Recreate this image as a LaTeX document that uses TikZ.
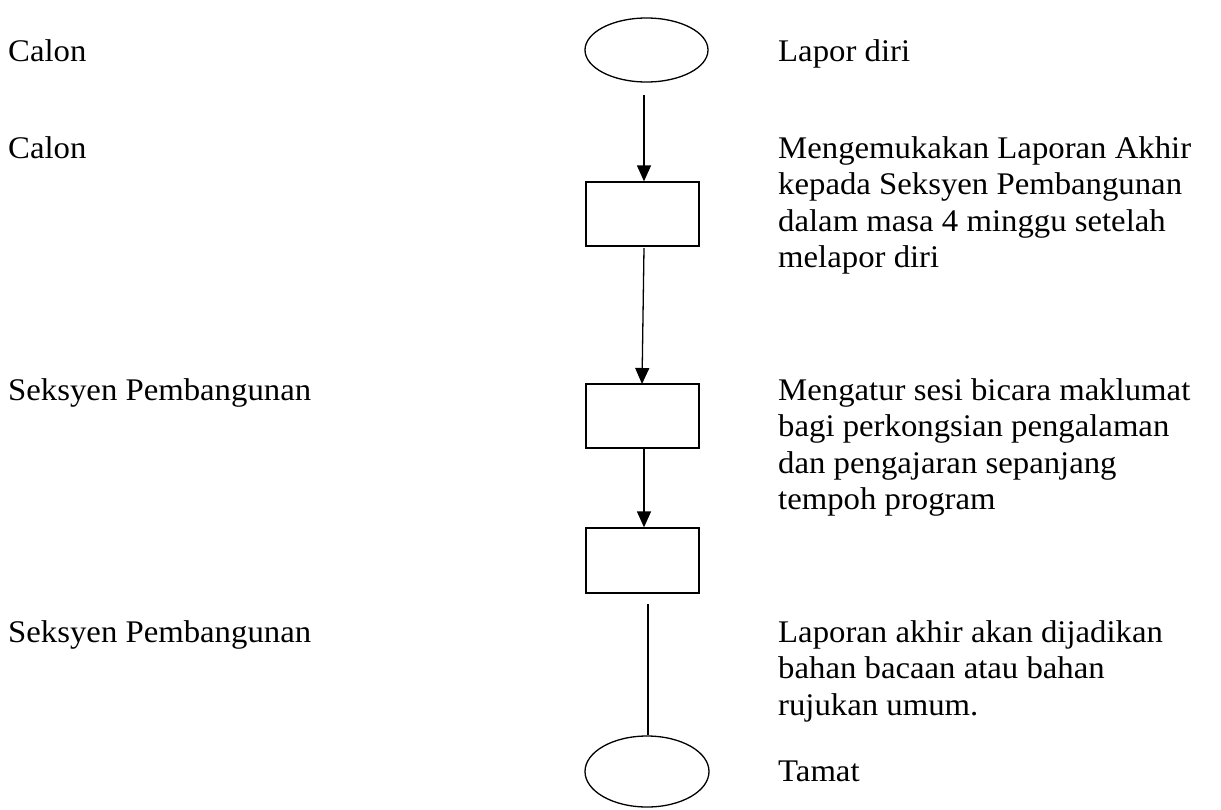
\documentclass[tikz,border=0pt]{standalone}
\usepackage{fontspec}
\setmainfont{Liberation Serif}[FakeStretch=1.04]
\usetikzlibrary{shapes.geometric,arrows.meta}
\begin{document}
\begin{tikzpicture}[x=1pt,y=-1pt,
  lw/.style={line width=1.3pt},
  procbox/.style={draw,lw,rectangle,minimum width=113pt,minimum height=64pt,inner sep=0pt},
  termnode/.style={draw,lw,ellipse,inner sep=0pt},
  flowarrow/.style={lw,-{Triangle[length=16pt,width=14pt]}},
  flowline/.style={lw},
  txt/.style={anchor=base west,inner sep=0pt,align=left,font=\fontsize{31.5pt}{36.5pt}\selectfont}
]
\useasboundingbox[fill=white] (0,0) rectangle (1221,809);

% shapes
\node[termnode,minimum width=123pt,minimum height=64pt] (start) at (646.5,50) {};
\node[procbox] (b1) at (642.5,214) {};
\node[procbox] (b2) at (642.5,416) {};
\node[procbox,minimum height=65pt] (b3) at (642.5,560.5) {};
\node[termnode,minimum width=124pt,minimum height=71pt] (end) at (647,771.5) {};

% connectors
\coordinate (a1s) at (644,95);
\coordinate (a2s) at (644,248);
\coordinate (a2e) at (642,384);
\coordinate (a3s) at (644,449);
\coordinate (l4s) at (648,604);
\draw[flowarrow] (a1s) -- (a1s |- b1.north);
\draw[flowarrow] (a2s) -- (a2e);
\draw[flowarrow] (a3s) -- (a3s |- b3.north);
\draw[flowline] (l4s) -- (l4s |- end.north);

% left labels
\node[txt] (l1) at (8,61) {Calon};
\node[txt] (l2) at (8,158) {Calon};
\node[txt] (l3) at (8,400) {Seksyen Pembangunan};
\node[txt] (l4) at (8,642) {Seksyen Pembangunan};

% right descriptions (base anchor = last line's baseline)
\node[txt] (r1) at (778,61) {Lapor diri};
\node[txt] (r2) at (778,267.5) {Mengemukakan Laporan Akhir\\kepada Seksyen Pembangunan\\dalam masa 4 minggu setelah\\melapor diri};
\node[txt] (r3) at (778,509.5) {Mengatur sesi bicara maklumat\\bagi perkongsian pengalaman\\dan pengajaran sepanjang\\tempoh program};
\node[txt] (r4) at (778,715) {Laporan akhir akan dijadikan\\bahan bacaan atau bahan\\rujukan umum.};
\node[txt] (r5) at (778,781) {Tamat};
\end{tikzpicture}
\end{document}
